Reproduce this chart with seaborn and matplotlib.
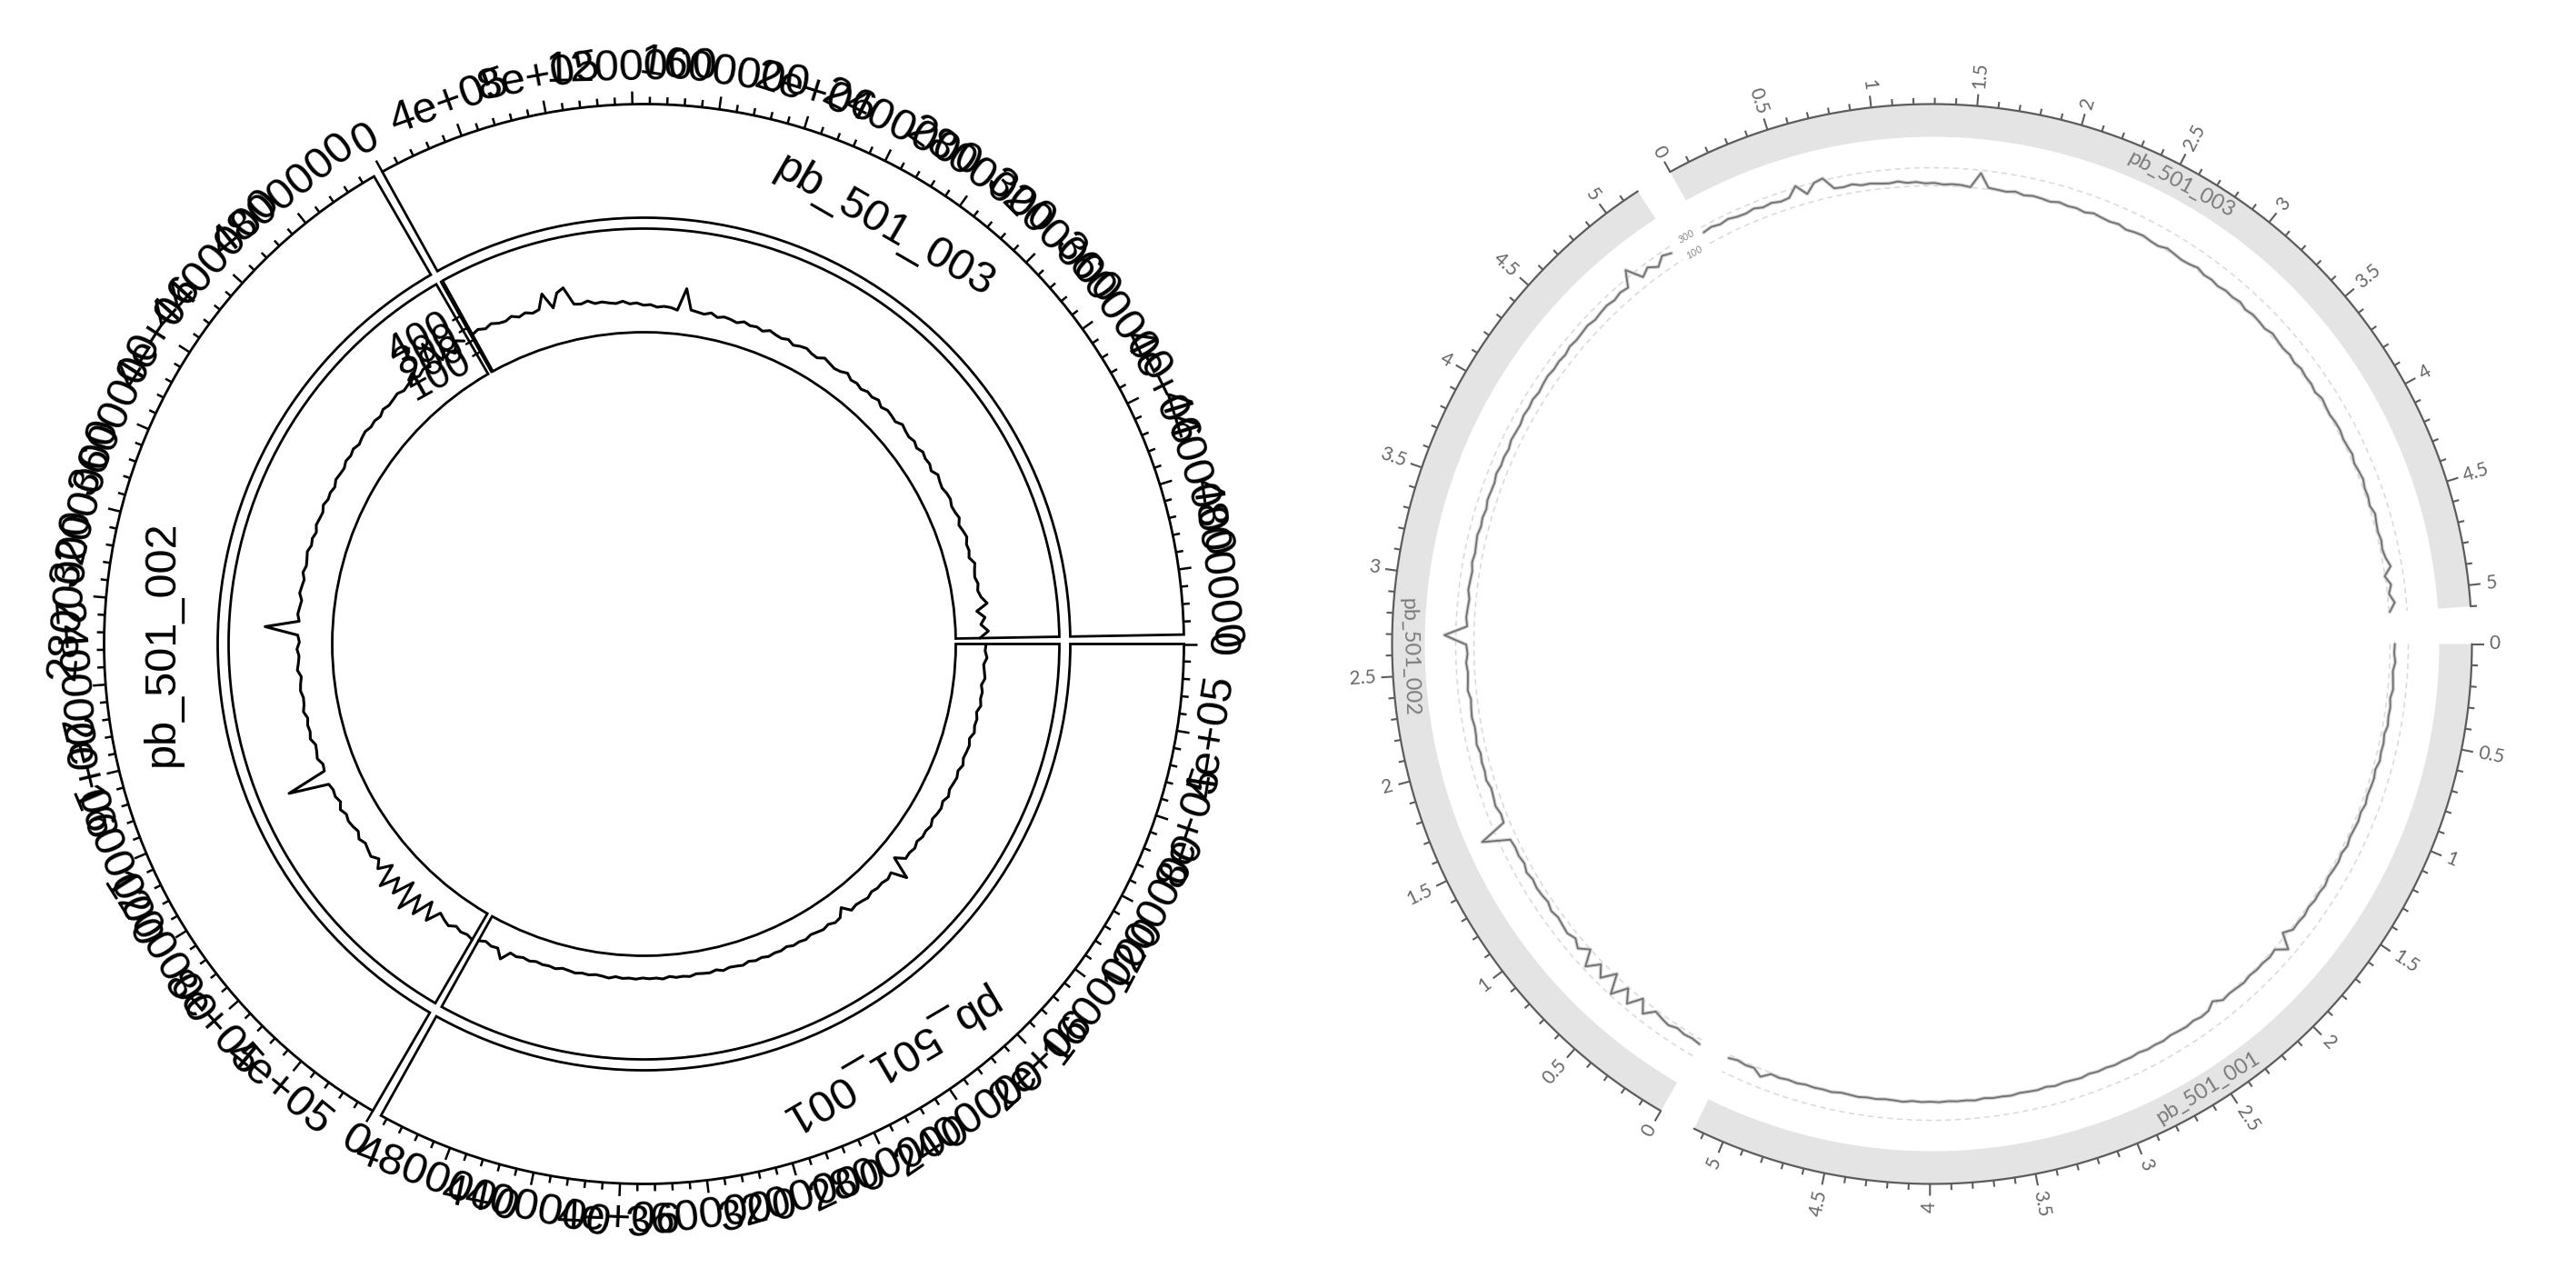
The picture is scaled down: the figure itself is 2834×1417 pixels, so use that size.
import numpy as np
import pandas as pd
import matplotlib
matplotlib.use("Agg")
import matplotlib.pyplot as plt
import seaborn as sns

# ---------------- data ----------------
sectors = ["pb_501_001", "pb_501_002", "pb_501_003"]
sector_len_mb = [5.15, 5.18, 5.10]
bin_mb = 0.05  # spacing of coverage values along each contig (Mb)

cov_001 = [152, 146, 161, 139, 148, 157, 136, 150, 144, 155, 133, 147, 141, 152, 129, 143, 138, 131, 146, 127,
           139, 132, 125, 141, 120, 134, 128, 117, 136, 123, 129, 114, 131, 120, 125, 58, 222, 112, 128, 116,
           121, 110, 126, 115, 108, 119, 58, 113, 122, 104, 117, 109, 101, 115, 106, 112, 97, 108, 103, 111,
           99, 106, 94, 109, 101, 96, 108, 91, 103, 98, 92, 105, 97, 100, 89, 104, 95, 99, 93, 102,
           96, 101, 92, 107, 98, 94, 104, 99, 109, 101, 96, 112, 105, 110, 103, 116, 108, 121, 112, 182,
           118, 127, 114, 135]
cov_002 = [152, 138, 147, 130, 159, 141, 118, 224, 92, 248, 112, 286, 78, 236, 128, 268, 101, 198, 146, 181,
           168, 155, 176, 149, 163, 171, 158, 180, 152, 169, 161, 174, 468, 166, 157, 183, 170, 162, 188, 175,
           181, 169, 190, 176, 172, 186, 179, 168, 193, 182, 175, 189, 171, 184, 425, 178, 192, 183, 174, 196,
           188, 180, 199, 185, 193, 204, 187, 196, 182, 201, 194, 189, 207, 191, 198, 186, 205, 197, 192, 209,
           199, 211, 194, 206, 214, 201, 209, 197, 217, 205, 212, 221, 203, 215, 224, 208, 229, 212, 378, 198,
           252, 186, 261, 228]
cov_003 = [238, 252, 231, 247, 226, 219, 236, 210, 224, 203, 214, 318, 197, 296, 322,
           188, 179, 193, 166, 171, 158, 149, 162, 140, 146,
           128, 133, 116, 124, 119, 104, 268, 117, 109, 102, 121, 98, 113, 107, 96, 118,
           104, 112, 97, 121, 108, 101, 115, 93, 109, 118, 102, 96, 124, 111, 99, 107, 128, 103, 112, 98,
           116, 108, 125, 101, 119, 113, 104, 130, 117, 109, 122, 106, 127, 114, 120, 103, 131, 118, 111, 124,
           129, 115, 121, 134, 112, 126, 138, 119, 124, 110, 141, 127, 118, 133, 122, 139,
           178, 96, 152, 118, 171, 108]
coverage = [cov_001, cov_002, cov_003]

left_yaxis_ticks = [100, 200, 300, 400]
right_grid_levels = [100, 300]

# ---------------- style ----------------
sns.set_theme(style="white")
plt.rcParams["font.family"] = ["Liberation Sans", "DejaVu Sans"]

fig = plt.figure(figsize=(28.34, 14.17), dpi=100)
axL = fig.add_axes([0, 0, 0.5, 1], projection="polar")
axR = fig.add_axes([0.5, 0, 0.5, 1], projection="polar")
for ax in (axL, axR):
    ax.set_xlim(0, 2 * np.pi)
    ax.set_ylim(0, 708.5)
    ax.set_autoscale_on(False)
    ax.set_axis_off()


def layout(gap):
    dpm = (360.0 - gap * len(sectors)) / sum(sector_len_mb)
    starts, s = [], 0.0
    for L in sector_len_mb:
        starts.append(s)
        s -= L * dpm + gap
    return dpm, starts


def r_format(v):
    v = int(round(v))
    if v == 0:
        return "0"
    fixed = str(v)
    sci = np.format_float_scientific(v, trim="-", exp_digits=2)
    return fixed if len(fixed) <= len(sci) else sci


def arc(ax, t0, t1, r, **kw):
    t = np.radians(np.linspace(t0, t1, 400))
    ax.plot(t, np.full_like(t, r), **kw)


# ================= LEFT PANEL (circlize-like) =================
dpmL, startsL = layout(1.0)
R_AX = 594
TR1 = (469, 594)
TR2 = (343, 457)
covL = lambda v: 353.5 + 0.15 * np.asarray(v, float)

rows = []
for i, (name, L) in enumerate(zip(sectors, sector_len_mb)):
    t0 = startsL[i]
    t1 = t0 - L * dpmL
    mid = 0.5 * (t0 + t1)
    for (rin, rout) in (TR1, TR2):
        axL.bar(np.radians(mid), rout - rin, width=np.radians(L * dpmL), bottom=rin,
                fill=False, edgecolor="black", linewidth=2.0, align="center")
    axL.text(np.radians(mid), 530, name, rotation=mid - 90, rotation_mode="anchor",
             ha="center", va="center", fontsize=35, color="black")
    k = 0
    while k * 0.08 <= L + 1e-9:
        pos = k * 0.08
        th = t0 - pos * dpmL
        major = (k % 5 == 0)
        axL.vlines(np.radians(th), R_AX, R_AX + (14 if major else 8), color="black", lw=1.8)
        if major:
            a = th % 360
            if a < 180:
                rot, va = a - 90, "bottom"
            else:
                rot, va = a + 90, "top"
            axL.text(np.radians(th), R_AX + 17, r_format(pos * 1e6), rotation=rot,
                     rotation_mode="anchor", ha="center", va=va, fontsize=35, color="black")
        k += 1
    pos = np.arange(len(coverage[i])) * bin_mb
    for p, v in zip(pos, coverage[i]):
        rows.append({"sector": name, "theta": np.radians(t0 - p * dpmL), "r": covL(v)})

dfL = pd.DataFrame(rows)
sns.lineplot(data=dfL, x="theta", y="r", units="sector", estimator=None, sort=False,
             color="black", linewidth=2.2, ax=axL, legend=False)

th_y = startsL[2] + 0.3
axL.plot(np.radians([th_y, th_y]), [TR2[0], TR2[1]], color="black", lw=1.8)
for v in left_yaxis_ticks:
    rr = float(covL(v))
    dth = np.degrees(9.0 / rr)
    arc(axL, th_y, th_y + dth, rr, color="black", lw=1.8)
    axL.text(np.radians(th_y + np.degrees(14.0 / rr)), rr, str(v), rotation=th_y - 90,
             rotation_mode="anchor", ha="right", va="center", fontsize=32, color="black")

# ================= RIGHT PANEL (pyCirclize-like) =================
dpmR, startsR = layout(4.0)
RR_AX = 594
BAND = (558, 594)
covR = lambda v: 494 + 0.1 * np.asarray(v, float)
axis_col = "#5c5c5c"
lab_font = ["Lato", "DejaVu Sans"]

rows = []
for i, (name, L) in enumerate(zip(sectors, sector_len_mb)):
    t0 = startsR[i]
    t1 = t0 - L * dpmR
    mid = 0.5 * (t0 + t1)
    axR.bar(np.radians(mid), BAND[1] - BAND[0], width=np.radians(L * dpmR), bottom=BAND[0],
            color="#e4e4e4", edgecolor="none", align="center")
    arc(axR, t0, t1, RR_AX, color=axis_col, lw=1.6)
    for lvl in right_grid_levels:
        arc(axR, t0, t1, float(covR(lvl)), color="#d9d9d9", lw=1.1, linestyle=(0, (4, 3)))
    rot = ((mid - 90 + 90) % 180) - 90
    axR.text(np.radians(mid), 575, name, rotation=rot, rotation_mode="anchor",
             ha="center", va="center", fontsize=17, color="#7a7a7a", family=lab_font)
    k = 0
    while k * 0.1 <= L + 1e-9:
        pos = k * 0.1
        th = t0 - pos * dpmR
        major = (k % 5 == 0)
        axR.vlines(np.radians(th), RR_AX, RR_AX + (13 if major else 7), color=axis_col, lw=1.5)
        if major:
            a = ((th + 180) % 360) - 180
            if -90 <= a <= 90:
                rot, ha = a, "left"
            else:
                rot, ha = a + 180, "right"
            axR.text(np.radians(th), RR_AX + 19, f"{pos:g}", rotation=rot, rotation_mode="anchor",
                     ha=ha, va="center", fontsize=15, color="#666666", family=lab_font)
        k += 1
    pos = np.arange(len(coverage[i])) * bin_mb
    for p, v in zip(pos, coverage[i]):
        rows.append({"sector": name, "theta": np.radians(t0 - p * dpmR), "r": covR(v)})

dfR = pd.DataFrame(rows)
sns.lineplot(data=dfR, x="theta", y="r", units="sector", estimator=None, sort=False,
             color="#d2d2d2", linewidth=3.0, ax=axR, legend=False)
sns.lineplot(data=dfR, x="theta", y="r", units="sector", estimator=None, sort=False,
             color="#707070", linewidth=1.3, ax=axR, legend=False)

th_lab = startsR[2] + 1.0
for lvl in right_grid_levels:
    axR.text(np.radians(th_lab), float(covR(lvl)), str(lvl), rotation=th_lab - 90,
             rotation_mode="anchor", ha="right", va="center", fontsize=8, color="#888888",
             family=lab_font, fontstyle="italic")

for ax in (axL, axR):
    ax.set_xlim(0, 2 * np.pi)
    ax.set_ylim(0, 708.5)
    ax.set_axis_off()

fig.savefig("out.png", dpi=100, facecolor="white")
